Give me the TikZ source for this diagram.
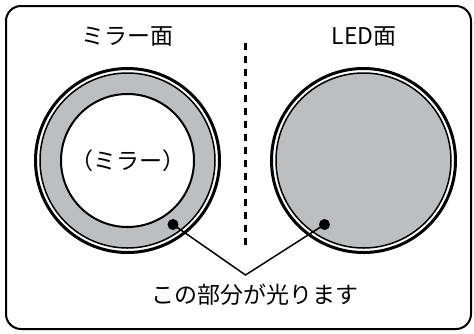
\documentclass[tikz,border=0pt]{standalone}
\usepackage{fontspec}
\newfontfamily\jpfont{Noto Sans CJK JP}
\usepackage{tikz}
\definecolor{ledgray}{RGB}{188,190,192}

\begin{document}
\begin{tikzpicture}[x=1pt,y=-1pt,
    label/.style={inner sep=0pt,font=\jpfont\fontsize{23}{23}\selectfont},
    pointer/.style={line width=1.5pt},
    rim/.style={line width=3pt}]
    \useasboundingbox (0,0) rectangle (474,333);

    % Frame
    \draw[line width=2pt,rounded corners=15pt] (6,6) rectangle (471,329);

    % Centres of the two faces
    \coordinate (mirror) at (127.5,160.5);
    \coordinate (led) at (363.5,160.5);

    % Both faces: outer rim, white gap, grey lit ring
    \foreach \c in {mirror,led} {
      \fill[white] (\c) circle[radius=92];
      \draw[line width=1.5pt,fill=ledgray] (\c) circle[radius=87.5];
      \draw[rim] (\c) circle[radius=92];
    }

    % Mirror in the middle of the left face
    \draw[line width=2pt,fill=white] (mirror) circle[radius=66.5];

    % Separator
    \draw[line width=3.5pt,dash pattern=on 6.5pt off 6.5pt] (245.5,43) -- (245.5,248);

    % Labels
    \node[label] (mirrorlbl) at (127.5,37) {ミラー面};
    \node[label] (ledlbl) at (364,37) {LED面};
    \node[label] (mirrortxt) at (mirror) {（ミラー）};
    \node[label] (lit) at (255,295) {この部分が光ります};

    % Pointers
    \coordinate (dotL) at (173,224.5);
    \coordinate (dotR) at (324.5,224.5);
    \coordinate (apex) at (245.5,275);
    \fill (dotL) circle[radius=5.5];
    \fill (dotR) circle[radius=5.5];
    \draw[pointer] (dotL) -- (apex) -- (dotR);
  \end{tikzpicture}
\end{document}
